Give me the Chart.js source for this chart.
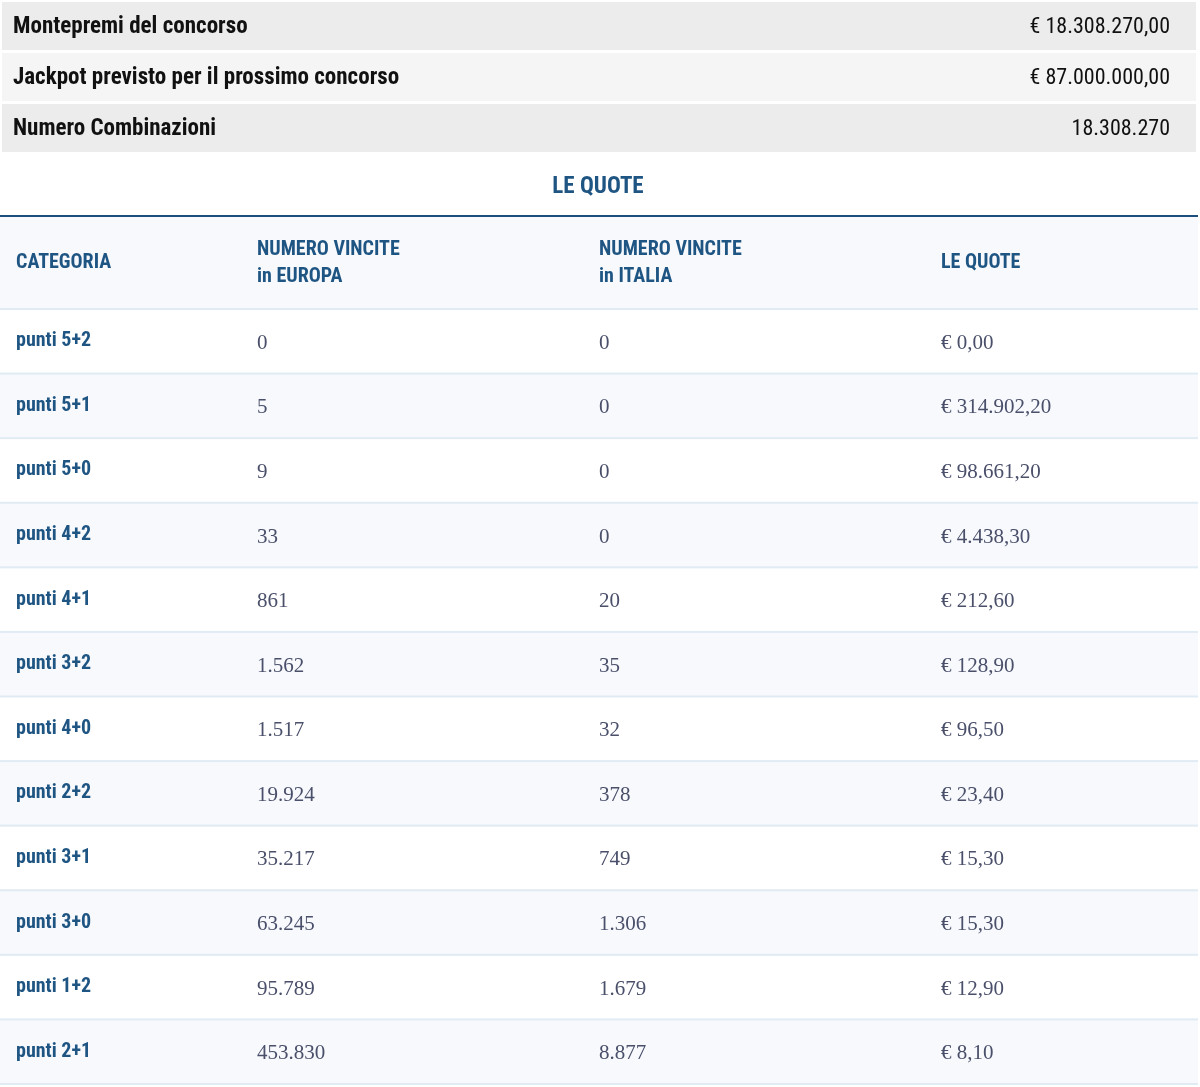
<!DOCTYPE html>
<html><head><meta charset="utf-8">
<script src="https://cdn.jsdelivr.net/npm/chart.js@4"></script>
<style>html,body{margin:0;padding:0;background:#fff}#w{width:1200px;height:1087px}</style>
</head><body><div id="w"><canvas id="c"></canvas></div>
<script>
const summaryLabels = ["Montepremi del concorso", "Jackpot previsto per il prossimo concorso", "Numero Combinazioni"];
const summaryValues = ["€ 18.308.270,00", "€ 87.000.000,00", "18.308.270"];
const title = "LE QUOTE";
const headers = [["CATEGORIA"], ["NUMERO VINCITE", "in EUROPA"], ["NUMERO VINCITE", "in ITALIA"], ["LE QUOTE"]];
const categories = ["punti 5+2","punti 5+1","punti 5+0","punti 4+2","punti 4+1","punti 3+2","punti 4+0","punti 2+2","punti 3+1","punti 3+0","punti 1+2","punti 2+1"];
const winsEurope = ["0","5","9","33","861","1.562","1.517","19.924","35.217","63.245","95.789","453.830"];
const winsItaly = ["0","0","0","0","20","35","32","378","749","1.306","1.679","8.877"];
const prizes = ["€ 0,00","€ 314.902,20","€ 98.661,20","€ 4.438,30","€ 212,60","€ 128,90","€ 96,50","€ 23,40","€ 15,30","€ 15,30","€ 12,90","€ 8,10"];

const SANS = "'Liberation Sans Narrow','Roboto Condensed',Roboto,sans-serif";
const SERIF = "'Liberation Serif','DejaVu Serif',serif";
const colX = [16, 257, 599, 941];
const BLUE = "#1f5583";

const tablePlugin = {
  id: 'table',
  beforeDraw(chart) {
    const ctx = chart.ctx, y = chart.scales.y, W = chart.width;
    const band = (y.bottom - y.top) / categories.length;
    ctx.save();
    // summary rows
    const sTop = [2, 53, 104], sH = 48, sBg = ["#ececec", "#f5f5f5", "#ececec"];
    summaryLabels.forEach((l, i) => {
      ctx.fillStyle = sBg[i]; ctx.fillRect(2, sTop[i], W - 6, sH);
      ctx.fillStyle = "#111"; ctx.font = "bold 23px " + SANS; ctx.textBaseline = "middle";
      ctx.textAlign = "left"; ctx.fillText(l, 13, sTop[i] + sH / 2 + 1);
      ctx.font = "22px " + SANS; ctx.textAlign = "right";
      ctx.fillText(summaryValues[i], 1170, sTop[i] + sH / 2 + 1);
    });
    // title
    ctx.fillStyle = BLUE; ctx.font = "bold 23px " + SANS; ctx.textAlign = "center";
    ctx.fillText(title, 598, 187);
    ctx.fillStyle = "#1b4f7d"; ctx.fillRect(0, 215, W - 2, 2);
    // header
    ctx.fillStyle = "#f7f9fd"; ctx.fillRect(0, 217, W - 2, y.top - 217);
    ctx.fillStyle = BLUE; ctx.font = "bold 20px " + SANS; ctx.textAlign = "left";
    const hc = (217 + y.top) / 2;
    headers.forEach((h, i) => {
      h.forEach((t, j) => ctx.fillText(t, colX[i], hc + (j - (h.length - 1) / 2) * 27));
    });
    // rows
    categories.forEach((c, i) => {
      const cy = y.getPixelForValue(i);
      if (i % 2 === 1) { ctx.fillStyle = "#f7f9fd"; ctx.fillRect(0, cy - band / 2, W - 2, band); }
      ctx.fillStyle = "#e1ebf3"; ctx.fillRect(0, cy - band / 2 - 1, W - 2, 2);
    });
    ctx.fillStyle = "#e1ebf3"; ctx.fillRect(0, y.bottom - 1, W - 2, 2);
    categories.forEach((c, i) => {
      const cy = y.getPixelForValue(i);
      ctx.textAlign = "left";
      ctx.fillStyle = BLUE; ctx.font = "bold 20px " + SANS; ctx.fillText(c, colX[0], cy);
      ctx.fillStyle = "#4a4f6a"; ctx.font = "21px " + SERIF;
      ctx.fillText(winsEurope[i], colX[1], cy + 2);
      ctx.fillText(winsItaly[i], colX[2], cy + 2);
      ctx.fillText(prizes[i], colX[3], cy + 2);
    });
    ctx.restore();
  }
};

new Chart(document.getElementById('c'), {
  type: 'bar',
  data: { labels: categories, datasets: [{ data: categories.map(() => 0), backgroundColor: 'rgba(0,0,0,0)' }] },
  options: {
    indexAxis: 'y', responsive: true, maintainAspectRatio: false, animation: false,
    layout: { padding: { top: 309, bottom: 3, left: 0, right: 0 } },
    plugins: { legend: { display: false }, tooltip: { enabled: false } },
    scales: {
      y: { type: 'category', display: false, offset: true },
      x: { display: false, min: 0, max: 1 }
    }
  },
  plugins: [tablePlugin]
});
</script></body></html>
